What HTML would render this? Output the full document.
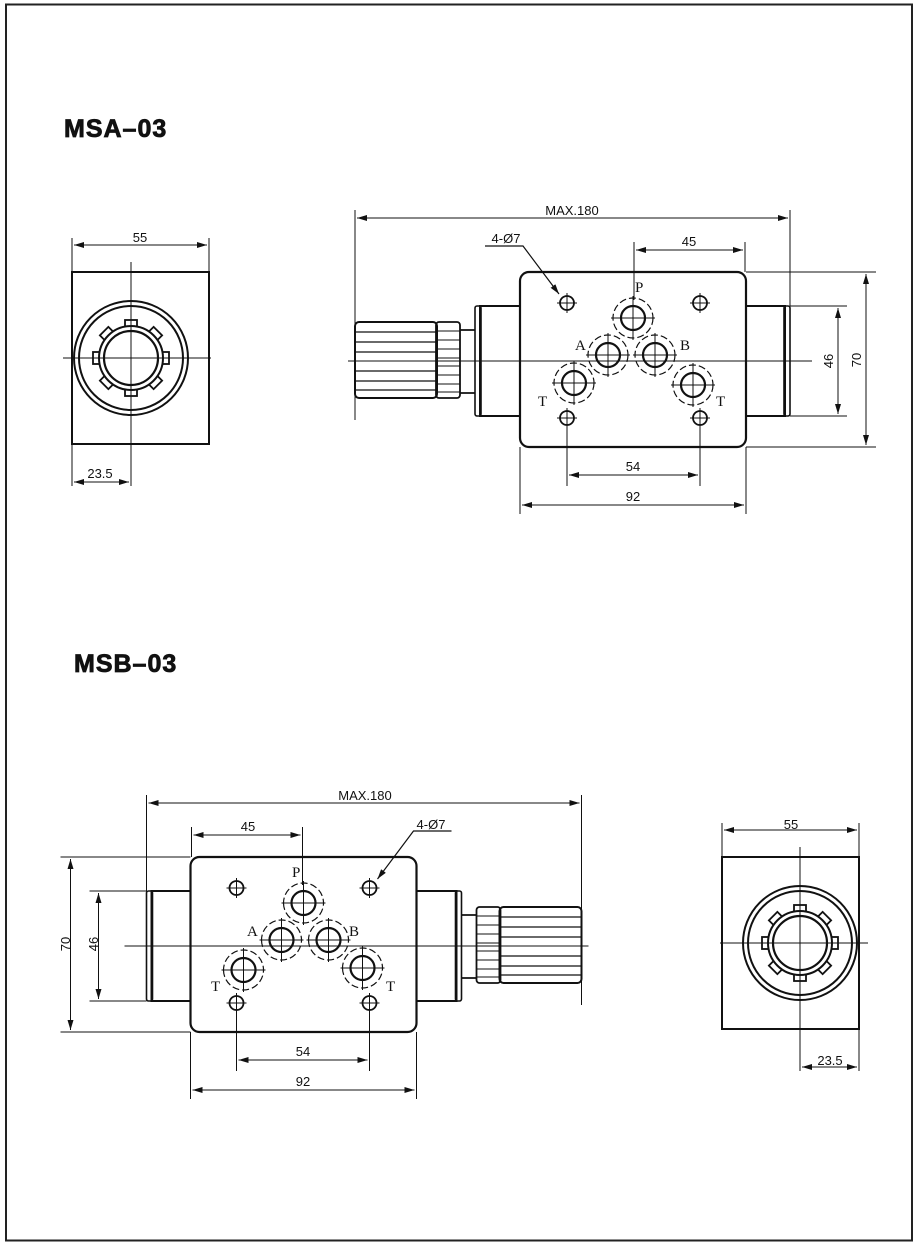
<!DOCTYPE html>
<html><head><meta charset="utf-8"><style>
html,body{margin:0;padding:0;background:#fff;}
svg{display:block;}
text{font-family:"Liberation Sans",sans-serif;fill:#111;}
.t{font-family:"Liberation Serif",serif;font-size:15px;}
.d{font-size:13px;}
</style></head><body>
<svg width="920" height="1247" viewBox="0 0 920 1247" xmlns="http://www.w3.org/2000/svg">
<defs>
<marker id="ar" viewBox="0 0 10 6" refX="10" refY="3" markerWidth="10" markerHeight="6" orient="auto-start-reverse" markerUnits="userSpaceOnUse"><path d="M0,0 L10,3 L0,6 z" fill="#111"/></marker>
<g id="hole"><circle r="7" fill="none" stroke="#111" stroke-width="1.8"/><path d="M-10,0H10M0,-10V10" stroke="#111" stroke-width="1"/></g>
<g id="port"><circle r="20" fill="none" stroke="#111" stroke-width="1.2" stroke-dasharray="7,3"/><circle r="12" fill="none" stroke="#111" stroke-width="2.2"/><path d="M-22,0H22M0,-22V22" stroke="#111" stroke-width="1"/></g>
<g id="valve" stroke="#111" fill="none">
 <rect x="520" y="272" width="226" height="175" rx="9" stroke-width="2.2"/>
 <path d="M746,306H785V416H746" stroke-width="2"/>
 <rect x="784" y="306" width="6" height="110" rx="2" stroke-width="1.6"/>
 <path d="M520,306H480V416H520" stroke-width="2"/>
 <rect x="475" y="306" width="6" height="110" rx="2" stroke-width="1.6"/>
 <path d="M475,330H460M475,393H460" stroke-width="1.8"/>
 <rect x="436" y="322" width="24" height="76" rx="3" stroke-width="1.8"/>
 <rect x="355" y="322" width="82" height="76" rx="4" stroke-width="2"/>
 <path d="M355,332H437M355,342H437M355,352H437M355,371H437M355,381H437M355,390H437" stroke-width="1.2"/>
 <path d="M436,331H460M436,340H460M436,349H460M436,358H460M436,366H460M436,375H460M436,384H460M436,392H460" stroke-width="1"/>
 <path d="M348,361H812" stroke-width="1"/>
 <path d="M355,210V420M790,210V306" stroke-width="1"/>
 <path d="M357,218H788" stroke-width="1" marker-start="url(#ar)" marker-end="url(#ar)"/>
 <path d="M634,242V300M745,242V272" stroke-width="1"/>
 <path d="M636,250H743" stroke-width="1" marker-start="url(#ar)" marker-end="url(#ar)"/>
 <path d="M790,306H847M790,416H847M746,272H876M746,447H876" stroke-width="1"/>
 <path d="M838,308V414" stroke-width="1" marker-start="url(#ar)" marker-end="url(#ar)"/>
 <path d="M866,274V445" stroke-width="1" marker-start="url(#ar)" marker-end="url(#ar)"/>
 <path d="M567,426V486M700,426V486M520,447V514M746,447V514" stroke-width="1"/>
 <path d="M569,475H698" stroke-width="1" marker-start="url(#ar)" marker-end="url(#ar)"/>
 <path d="M522,505H744" stroke-width="1" marker-start="url(#ar)" marker-end="url(#ar)"/>
 <path d="M485,246H523L559,294" stroke-width="1.2" marker-end="url(#ar)"/>
 <use href="#hole" x="567" y="303"/><use href="#hole" x="700" y="303"/>
 <use href="#hole" x="567" y="418"/><use href="#hole" x="700" y="418"/>
 <use href="#port" x="633" y="318"/><use href="#port" x="608" y="355"/>
 <use href="#port" x="655" y="355"/><use href="#port" x="574" y="383"/>
 <use href="#port" x="693" y="385"/>
</g>
<g id="endv" stroke="#111" fill="none">
 <rect x="-59" y="-86" width="137" height="172" stroke-width="2"/>
 <circle r="57" stroke-width="2"/><circle r="52" stroke-width="2"/>
 <g stroke-width="1.8">
  <rect x="-6" y="-38" width="12" height="8" transform="rotate(0)"/>
  <rect x="-6" y="-38" width="12" height="8" transform="rotate(45)"/>
  <rect x="-6" y="-38" width="12" height="8" transform="rotate(90)"/>
  <rect x="-6" y="-38" width="12" height="8" transform="rotate(135)"/>
  <rect x="-6" y="-38" width="12" height="8" transform="rotate(180)"/>
  <rect x="-6" y="-38" width="12" height="8" transform="rotate(225)"/>
  <rect x="-6" y="-38" width="12" height="8" transform="rotate(270)"/>
  <rect x="-6" y="-38" width="12" height="8" transform="rotate(315)"/>
 </g>
 <circle r="32" stroke-width="2" fill="#fff"/><circle r="27" stroke-width="2.2"/>
 <path d="M-68,0H80M0,-96V95" stroke-width="1"/>
 <path d="M-59,86V128M0,95V128" stroke-width="1"/>
 <path d="M-57,-113H76" stroke-width="1" marker-start="url(#ar)" marker-end="url(#ar)"/>
 <path d="M-57,124H-2" stroke-width="1" marker-start="url(#ar)" marker-end="url(#ar)"/>
 <path d="M-59,-120V-86M78,-120V-86" stroke-width="1"/>
</g>
</defs>

<rect x="6" y="4.5" width="906" height="1236" fill="none" stroke="#222" stroke-width="2"/>

<text x="64" y="137" font-size="25" font-weight="bold" letter-spacing="1" stroke="#111" stroke-width="0.8">MSA–03</text>
<text x="74" y="672" font-size="25" font-weight="bold" letter-spacing="1" stroke="#111" stroke-width="0.8">MSB–03</text>

<use href="#valve"/>
<g transform="translate(131,358)"><use href="#endv"/></g>
<text class="d" x="140" y="242" text-anchor="middle">55</text>
<text class="d" x="100" y="478" text-anchor="middle">23.5</text>
<text class="d" x="572" y="215" text-anchor="middle">MAX.180</text>
<text class="d" x="689" y="246" text-anchor="middle">45</text>
<text class="d" x="506" y="243" text-anchor="middle">4-Ø7</text>
<text class="d" x="633" y="471" text-anchor="middle">54</text>
<text class="d" x="633" y="501" text-anchor="middle">92</text>
<text class="d" transform="translate(833,361) rotate(-90)" text-anchor="middle">46</text>
<text class="d" transform="translate(861,360) rotate(-90)" text-anchor="middle">70</text>
<text class="t" x="635" y="292">P</text>
<text class="t" x="575" y="350">A</text>
<text class="t" x="680" y="350">B</text>
<text class="t" x="538" y="406">T</text>
<text class="t" x="716" y="406">T</text>

<g transform="translate(936.5,585) scale(-1,1)"><use href="#valve"/></g>
<g transform="translate(800,943) scale(-1,1)"><use href="#endv"/></g>
<text class="d" x="791" y="829" text-anchor="middle">55</text>
<text class="d" x="830" y="1065" text-anchor="middle">23.5</text>
<text class="d" x="365" y="800" text-anchor="middle">MAX.180</text>
<text class="d" x="248" y="831" text-anchor="middle">45</text>
<text class="d" x="431" y="829" text-anchor="middle">4-Ø7</text>
<text class="d" x="303" y="1056" text-anchor="middle">54</text>
<text class="d" x="303" y="1086" text-anchor="middle">92</text>
<text class="d" transform="translate(98,944) rotate(-90)" text-anchor="middle">46</text>
<text class="d" transform="translate(70,944) rotate(-90)" text-anchor="middle">70</text>
<text class="t" x="292" y="877">P</text>
<text class="t" x="247" y="936">A</text>
<text class="t" x="349" y="936">B</text>
<text class="t" x="211" y="991">T</text>
<text class="t" x="386" y="991">T</text>
</svg>
</body></html>
